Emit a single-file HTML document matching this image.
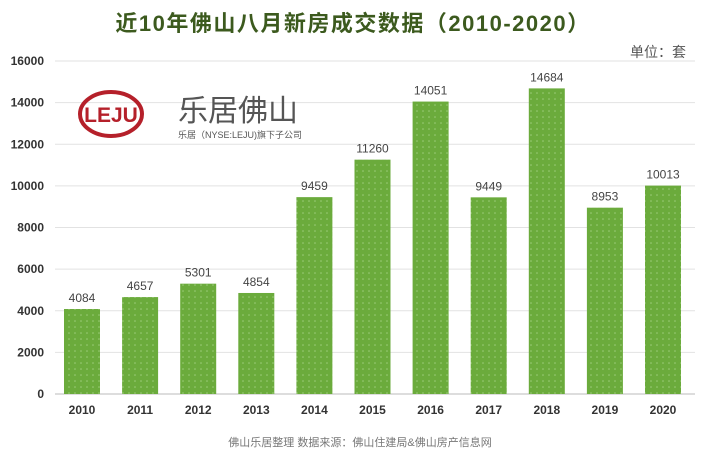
<!DOCTYPE html>
<html><head><meta charset="utf-8"><style>
body{margin:0;background:#fff;width:707px;height:459px;overflow:hidden;font-family:"Liberation Sans","Noto Sans CJK SC",sans-serif}
</style></head><body>
<svg width="707" height="459" xmlns="http://www.w3.org/2000/svg">
<defs><pattern id="dots" width="6" height="6" patternUnits="userSpaceOnUse"><rect width="6" height="6" fill="#6bab3c"/><circle cx="3" cy="3" r="0.8" fill="#9ccc7a"/></pattern></defs>
<text x="353" y="31" text-anchor="middle" font-size="22" letter-spacing="1.5" font-weight="bold" fill="#3c5a1e" font-family="Liberation Sans,Noto Sans CJK SC,sans-serif">近10年佛山八月新房成交数据（2010-2020）</text>
<text x="686" y="57" text-anchor="end" font-size="14" fill="#555">单位：套</text>
<g id="grid"></g><g id="bars"></g>
<g>
<ellipse cx="111" cy="114" rx="31" ry="22" fill="none" stroke="#b5202a" stroke-width="4"/>
<text x="111" y="122" text-anchor="middle" font-size="21" font-weight="bold" fill="#b5202a">LEJU</text>
<text x="178" y="121" font-size="30" fill="#555">乐居佛山</text>
<text x="178" y="138" font-size="9" fill="#555">乐居（NYSE:LEJU)旗下子公司</text>
</g>
<text x="360" y="446" text-anchor="middle" font-size="11" fill="#777">佛山乐居整理 数据来源：佛山住建局&amp;佛山房产信息网</text>
</svg>
<script>
const categories=["2010","2011","2012","2013","2014","2015","2016","2017","2018","2019","2020"];
const values=[4084,4657,5301,4854,9459,11260,14051,9449,14684,8953,10013];
const ticks=[0,2000,4000,6000,8000,10000,12000,14000,16000];
const NS="http://www.w3.org/2000/svg";
const y=v=>394-v*333/16000, x=i=>82+i*58.1;
const g=document.getElementById('grid'), b=document.getElementById('bars');
function mk(tag,at,par,txt){const e=document.createElementNS(NS,tag);for(const k in at)e.setAttribute(k,at[k]);if(txt!=null)e.textContent=txt;par.appendChild(e);return e;}
ticks.forEach(t=>{
 const l=mk('line',{x1:55,x2:695,y1:y(t),y2:y(t),stroke:t?'#e2e2e2':'#bbb','stroke-width':1},g);
 
 
 const tx=mk('text',{x:44,y:y(t)+4,'text-anchor':'end','font-size':12,'font-weight':'bold',fill:'#333'},g,t);
 
 
});
categories.forEach((c,i)=>{
 const r=mk('rect',{x:x(i)-18,y:y(values[i]),width:36,height:394-y(values[i]),fill:'url(#dots)'},b);
 
 
 const v=mk('text',{x:x(i),y:y(values[i])-7,'text-anchor':'middle','font-size':12,fill:'#444'},b,values[i]);
 
 
 const cl=mk('text',{x:x(i),y:414,'text-anchor':'middle','font-size':12,'font-weight':'bold',fill:'#333'},b,c);
 
 
});
</script>
</body></html>
